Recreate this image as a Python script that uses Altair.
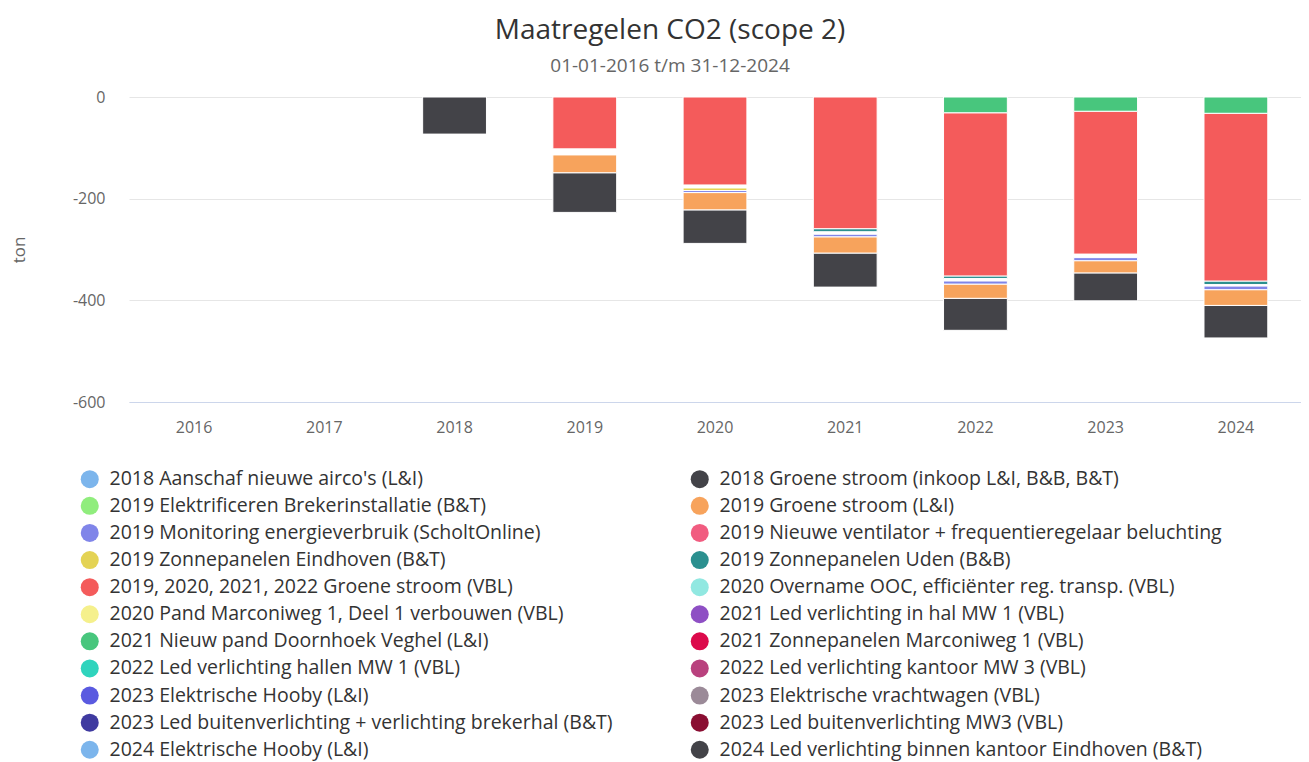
import altair as alt
import pandas as pd

years = ["2016", "2017", "2018", "2019", "2020", "2021", "2022", "2023", "2024"]

series_names = [
    "2018 Aanschaf nieuwe airco's (L&I)",
    "2018 Groene stroom (inkoop L&I, B&B, B&T)",
    "2019 Elektrificeren Brekerinstallatie (B&T)",
    "2019 Groene stroom (L&I)",
    "2019 Monitoring energieverbruik (ScholtOnline)",
    "2019 Nieuwe ventilator + frequentieregelaar beluchting",
    "2019 Zonnepanelen Eindhoven (B&T)",
    "2019 Zonnepanelen Uden (B&B)",
    "2019, 2020, 2021, 2022 Groene stroom (VBL)",
    "2020 Overname OOC, efficiënter reg. transp. (VBL)",
    "2020 Pand Marconiweg 1, Deel 1 verbouwen (VBL)",
    "2021 Led verlichting in hal MW 1 (VBL)",
    "2021 Nieuw pand Doornhoek Veghel (L&I)",
    "2021 Zonnepanelen Marconiweg 1 (VBL)",
    "2022 Led verlichting hallen MW 1 (VBL)",
    "2022 Led verlichting kantoor MW 3 (VBL)",
    "2023 Elektrische Hooby (L&I)",
    "2023 Elektrische vrachtwagen (VBL)",
    "2023 Led buitenverlichting + verlichting brekerhal (B&T)",
    "2023 Led buitenverlichting MW3 (VBL)",
    "2024 Elektrische Hooby (L&I)",
    "2024 Led verlichting binnen kantoor Eindhoven (B&T)",
]

series_colors = [
    "#7cb5ec", "#434348", "#90ed7d", "#f7a35c", "#8085e9", "#f15c80",
    "#e4d354", "#2b908f", "#f45b5b", "#91e8e1", "#f5f08c", "#8e4fc4",
    "#48c67d", "#dc0a4b", "#2fd4bd", "#b9417e", "#5a5ae0", "#9b8a98",
    "#3f3aa0", "#8a0e32", "#7cb5ec", "#434348",
]

# values per year (ton), only the series that show in the bars
groene_stroom_2018 = [0, 0, -73, -78, -66, -67, -63, -55, -64]
groene_stroom_li = [0, 0, 0, -35, -34, -32, -28, -24, -31]
monitoring = [0, 0, 0, 0, -4, -5, -6, -6, -7]
zon_eindhoven = [0, 0, 0, 0, -5, 0, 0, 0, 0]
zon_uden = [0, 0, 0, 0, 0, -6, -5, 0, -7]
groene_stroom_vbl = [0, 0, 0, -102, -173, -259, -321, -281, -330]
nieuw_pand = [0, 0, 0, 0, 0, 0, -31, -28, -32]
# empty (white) part of the stack, and its place in the stack order
gap_values = [0, 0, 0, -12, -6, -5, -5, -7, -3]
gap_rank = [5.5, 5.5, 5.5, 5.5, 7.5, 5.5, 5.5, 5.5, 5.5]

shown = {
    1: groene_stroom_2018,
    3: groene_stroom_li,
    4: monitoring,
    6: zon_eindhoven,
    7: zon_uden,
    8: groene_stroom_vbl,
    12: nieuw_pand,
}

rows = []
for idx, vals in shown.items():
    for y, v in zip(years, vals):
        if v != 0:
            rows.append({"year": y, "series": series_names[idx], "value": v, "rank": idx})
for y, v, r in zip(years, gap_values, gap_rank):
    if v != 0:
        rows.append({"year": y, "series": "gap", "value": v, "rank": r})
df = pd.DataFrame(rows)

# legend is filled column by column: put the left column first
legend_domain = series_names[0::2] + series_names[1::2]
legend_range = series_colors[0::2] + series_colors[1::2]

FONT = "Open Sans"

bars = (
    alt.Chart(df)
    .transform_stack(
        stack="value",
        groupby=["year"],
        as_=["v0", "v1"],
        sort=[alt.SortField("rank", order="descending")],
    )
    .transform_filter(alt.datum.series != "gap")
    .mark_bar(stroke="white", strokeWidth=1)
    .encode(
        x=alt.X(
            "year:N",
            scale=alt.Scale(domain=years, paddingInner=0.51, paddingOuter=0.255),
            axis=alt.Axis(
                title=None, labelAngle=0, ticks=False, tickSize=0, grid=False,
                domainColor="#ccd6eb", labelFontSize=16, labelColor="#666666",
                labelFont=FONT, labelPadding=17,
            ),
        ),
        y=alt.Y(
            "v0:Q",
            scale=alt.Scale(domain=[-600, 0], nice=False),
            axis=alt.Axis(
                title="ton", values=[-600, -400, -200, 0], ticks=False, tickSize=0,
                domain=False, gridColor="#e6e6e6", labelFontSize=16,
                labelColor="#666666", labelFont=FONT, labelPadding=24,
                labelExpr="'' + datum.value",
                titleFontSize=17, titleColor="#666666", titleFont=FONT,
                titleFontWeight="normal", titlePadding=44,
            ),
        ),
        y2="v1:Q",
        color=alt.Color(
            "series:N",
            scale=alt.Scale(domain=legend_domain, range=legend_range),
            legend=alt.Legend(
                title=None, orient="none", legendX=-49, legendY=372,
                columns=2, symbolType="circle", symbolSize=324,
                symbolStrokeWidth=0, labelFontSize=19.5, labelColor="#333333",
                labelFont=FONT, labelOffset=10, rowPadding=6.1,
                columnPadding=77, labelLimit=800,
            ),
        ),
    )
)

chart = (
    bars.properties(
        width=1172,
        height=305,
        autosize=alt.AutoSizeParams(type="none"),
        padding={"left": 121, "top": 89, "right": 0, "bottom": 366},
        title=alt.TitleParams(
            text="Maatregelen CO2 (scope 2)",
            subtitle="01-01-2016 t/m 31-12-2024",
            fontSize=28, font=FONT, fontWeight="normal", color="#333333",
            subtitleFontSize=19, subtitleFont=FONT, subtitleColor="#666666",
            subtitlePadding=12, anchor="middle", frame="group", dx=-45,
            offset=13,
        ),
    )
    .configure_view(stroke=None)
)

chart.save("out.html", embed_options={"renderer": "svg", "actions": False})
